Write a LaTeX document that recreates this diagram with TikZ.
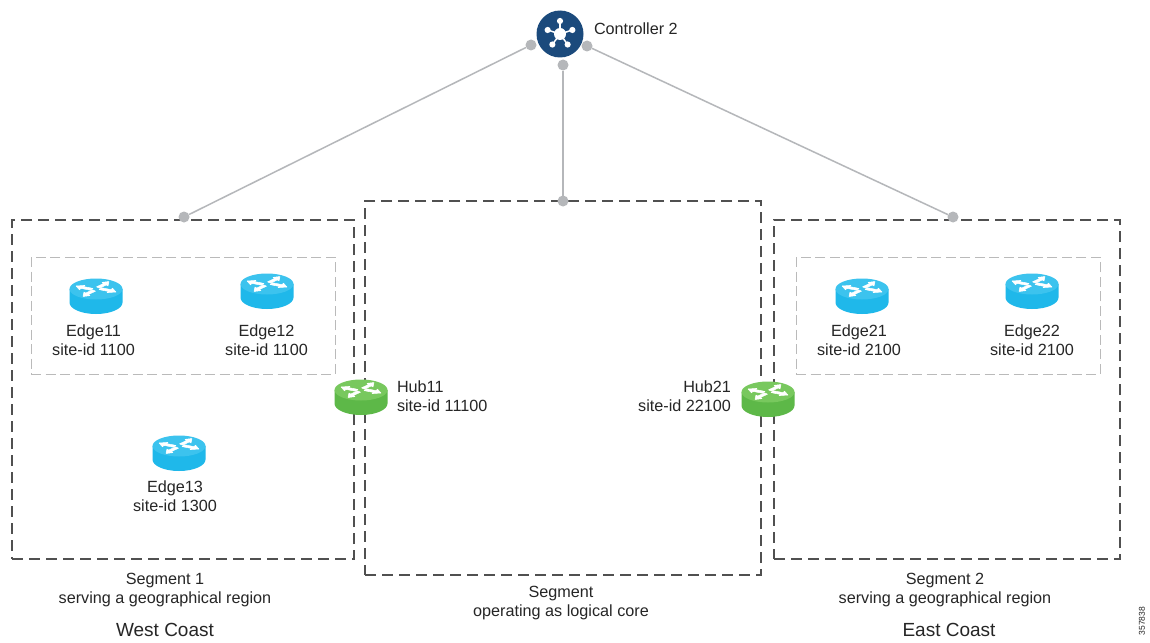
\documentclass[tikz,border=0pt]{standalone}
\usepackage{fontspec}
\setmainfont{Liberation Sans}
\definecolor{wireg}{HTML}{B5B7BA}
\definecolor{dashd}{HTML}{505050}
\definecolor{dashl}{HTML}{BABABA}
\definecolor{navy}{HTML}{1B4A7C}
\definecolor{rblue}{HTML}{1FB8EA}
\definecolor{rbluet}{HTML}{3CC3EE}
\definecolor{rgreen}{HTML}{5DB848}
\definecolor{rgreent}{HTML}{78C85E}
\tikzset{
  x=1pt,y=-1pt,
  every node/.style={font=\fontsize{16.2}{19.3}\selectfont,text=black!85,inner sep=0,outer sep=0,align=center},
  segbox/.style={draw=dashd,line width=1.6pt,dash pattern=on 11pt off 6pt},
  groupbox/.style={draw=dashl,line width=0.9pt,dash pattern=on 10pt off 4.5pt},
  wire/.style={draw=wireg,line width=1.5pt},
  dotend/.style={circle,fill=wireg,minimum size=11pt,draw=none},
  router/.pic={
    \fill[#1] (-26.5,-7) -- (-26.5,6.5) arc[start angle=180,end angle=0,x radius=26.5,y radius=11.5] -- (26.5,-7) -- cycle;
    \fill[#1t] (0,-7) ellipse[x radius=26.5,y radius=10.5];
    \foreach \r in {0,180}{
      \begin{scope}[shift={(0,-7)},rotate=\r]
      \filldraw[white,line width=0.5pt,line join=round] (-20,-3) -- (-11,-3.6) -- (-12.5,-2.4) -- (-3,-0.6) -- (-5.5,1.2) -- (-15,-0.6) -- (-16.5,0.8) -- cycle;
      \filldraw[white,line width=0.5pt,line join=round] (13,-7.5) -- (12,-3) -- (10.3,-4.1) -- (3.5,-0.8) -- (0.5,-2.2) -- (7.5,-5.4) -- (6,-6.6) -- cycle;
      \end{scope}
    }
  }
}
\begin{document}
\begin{tikzpicture}
\useasboundingbox (0,0) rectangle (1150,642);
\fill[white] (0,0) rectangle (1150,642);
% segment boxes
\node[segbox,minimum width=342pt,minimum height=339pt,anchor=north west] (west) at (12,220) {};
\node[segbox,minimum width=396pt,minimum height=374pt,anchor=north west] (core) at (365,201) {};
\node[segbox,minimum width=346pt,minimum height=339pt,anchor=north west] (east) at (774,220) {};
\node[groupbox,minimum width=304pt,minimum height=117pt,anchor=north west] (gw) at (31,257) {};
\node[groupbox,minimum width=304pt,minimum height=117pt,anchor=north west] (ge) at (796,257) {};
% connector dots
\node[dotend] (c1) at (531,45) {};
\node[dotend] (c2) at (563,65) {};
\node[dotend] (c3) at (587,46) {};
\node[dotend] (t1) at (184,217) {};
\node[dotend] (t2) at (563,201) {};
\node[dotend] (t3) at (953,217) {};
\draw[wire] (c1) -- (t1);
\draw[wire] (c2) -- (t2);
\draw[wire] (c3) -- (t3);
% controller
\node[circle,fill=navy,minimum size=47pt] (ctrl) at (560,34) {};
\foreach \a in {-90,-18,54,126,198}{
  \draw[white,line width=1.5pt] (ctrl.center) -- ++(\a:13);
  \fill[white] (ctrl.center) ++(\a:13) circle (3.1pt);
}
\fill[white] (ctrl.center) circle (6pt);
\node[anchor=west] (ctrllab) at (594,29) {Controller 2};
% routers
\pic at (96,296) {router=rblue};
\pic at (267,291) {router=rblue};
\pic at (179,453) {router=rblue};
\pic at (862,296) {router=rblue};
\pic at (1032,291) {router=rblue};
\pic at (361,397) {router=rgreen};
\pic at (768,399) {router=rgreen};
% labels
\node (e11) at (93.5,340) {Edge11\\site-id 1100};
\node (e12) at (266.5,340) {Edge12\\site-id 1100};
\node (e13) at (175,496) {Edge13\\site-id 1300};
\node (e21) at (859,340) {Edge21\\site-id 2100};
\node (e22) at (1032,340) {Edge22\\site-id 2100};
\node[anchor=west,align=left] (h11) at (397,396) {Hub11\\site-id 11100};
\node[anchor=east,align=right] (h21) at (731,396) {Hub21\\site-id 22100};
\node (s1) at (165,590) {Segment 1\\serving a geographical region};
\node (s0) at (561,603) {Segment\\operating as logical core};
\node (s2) at (945,590) {Segment 2\\serving a geographical region};
\node[font=\fontsize{19}{22}\selectfont] (wc) at (165,630) {West Coast};
\node[font=\fontsize{19}{22}\selectfont] (ec) at (949,630) {East Coast};
\node[rotate=90,font=\fontsize{8.5}{10}\selectfont] (num) at (1142,621) {357838};
\end{tikzpicture}
\end{document}
